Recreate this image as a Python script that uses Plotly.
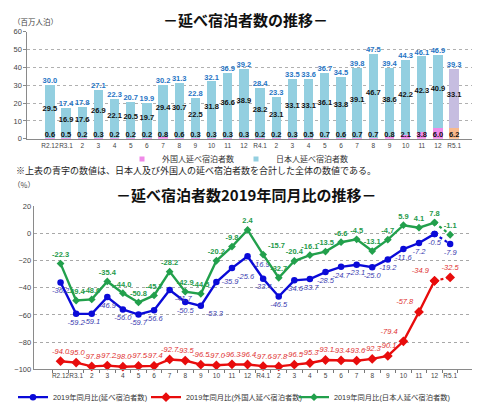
import plotly.graph_objects as go

# ---------------- data ----------------
categories = ["R2.12", "R3.1", "R3.2", "R3.3", "R3.4", "R3.5", "R3.6", "R3.7", "R3.8",
              "R3.9", "R3.10", "R3.11", "R3.12", "R4.1", "R4.2", "R4.3", "R4.4", "R4.5",
              "R4.6", "R4.7", "R4.8", "R4.9", "R4.10", "R4.11", "R4.12", "R5.1"]
tick_labels = ["R2.12", "R3.1", "2", "3", "4", "5", "6", "7", "8", "9", "10", "11", "12",
               "R4.1", "2", "3", "4", "5", "6", "7", "8", "9", "10", "11", "12", "R5.1"]

total_stays = [30.0, 17.4, 17.8, 27.1, 22.3, 20.7, 19.9, 30.2, 31.3, 22.8, 32.1, 36.9, 39.2,
               28.4, 23.3, 33.5, 33.6, 36.7, 34.5, 39.8, 47.5, 39.4, 44.3, 46.1, 46.9, 39.3]
japanese_stays = [29.5, 16.9, 17.6, 26.9, 22.1, 20.5, 19.7, 29.4, 30.7, 22.5, 31.8, 36.6, 38.9,
                  28.2, 23.1, 33.1, 33.1, 36.1, 33.8, 39.1, 46.7, 38.6, 42.2, 42.3, 40.9, 33.1]
foreign_stays = [0.6, 0.5, 0.2, 0.3, 0.2, 0.2, 0.2, 0.8, 0.6, 0.3, 0.3, 0.3, 0.3,
                 0.2, 0.2, 0.3, 0.5, 0.7, 0.6, 0.7, 0.7, 0.8, 2.1, 3.8, 6.0, 6.2]

yoy_total = [-36.2, -59.2, -59.1, -46.9, -56.0, -59.7, -56.6, -41.7, -50.5, -53.3, -35.9, -25.6, -16.9,
             -33.4, -46.5, -34.6, -33.7, -28.5, -24.7, -23.1, -25.0, -19.2, -11.6, -7.2, -0.5, -7.9]
yoy_foreign = [-94.0, -95.0, -97.8, -97.2, -98.0, -97.5, -97.4, -92.7, -93.5, -96.5, -97.0, -96.3, -96.4,
               -97.6, -97.8, -96.5, -95.3, -93.1, -93.4, -93.6, -92.3, -90.1, -79.4, -57.8, -34.9, -32.5]
yoy_japanese = [-22.3, -49.4, -48.6, -35.4, -44.0, -50.8, -45.7, -28.2, -42.9, -44.5, -20.2, -9.8, 2.4,
                -15.7, -32.7, -20.4, -16.1, -13.5, -6.6, -4.5, -13.1, -4.7, 5.9, 4.1, 7.8, -1.1]

# ---------------- styles ----------------
W, H = 480, 404
FONT = "Arial, Liberation Sans, Noto Sans CJK JP, sans-serif"
JP = "Noto Sans CJK JP, sans-serif"
n = len(categories)
C_JP_BAR = "#93cfe0"
C_FR_BAR = "#f08ae8"
jp_colors = [C_JP_BAR] * (n - 1) + ["#c6bde0"]
fr_colors = [C_FR_BAR] * (n - 1) + ["#f8b98c"]
C_BLUE, C_RED, C_GREEN = "#0a0ad8", "#e80c0c", "#22a04c"


def px_y(py):
    return 1 - py / H


def px_x(px):
    return px / W


def fmt(vals):
    return [f"{v:.1f}" for v in vals]


fig = go.Figure()

# ---- top: stacked bars ----
fig.add_trace(go.Bar(x=categories, y=foreign_stays, marker=dict(color=fr_colors, line_width=0),
                     showlegend=False, xaxis="x", yaxis="y", hoverinfo="y"))
fig.add_trace(go.Bar(x=categories, y=japanese_stays, marker=dict(color=jp_colors, line_width=0),
                     showlegend=False, xaxis="x", yaxis="y", hoverinfo="y"))
# value labels
fig.add_trace(go.Scatter(x=categories, y=total_stays, mode="text", text=fmt(total_stays),
                         textposition="top center", showlegend=False, xaxis="x", yaxis="y",
                         textfont=dict(family=FONT, size=7.5, color="#1f74c4", weight="bold")))
jp_mid = [f + j / 2 + 1.5 for f, j in zip(foreign_stays, japanese_stays)]
fig.add_trace(go.Scatter(x=categories, y=jp_mid, mode="text", text=fmt(japanese_stays),
                         textposition="middle center", showlegend=False, xaxis="x", yaxis="y",
                         textfont=dict(family=FONT, size=7.5, color="#111111", weight="bold")))
fig.add_trace(go.Scatter(x=categories, y=[0] * n, mode="text", text=fmt(foreign_stays),
                         textposition="top center", showlegend=False, xaxis="x", yaxis="y",
                         textfont=dict(family=FONT, size=7.5, color="#111111", weight="bold")))
# legend entries for bars (one legend each, to place them like the reference)
fig.add_trace(go.Scatter(x=[None], y=[None], mode="markers", name="外国人延べ宿泊者数",
                         marker=dict(symbol="square", size=5, color=C_FR_BAR), legend="legend",
                         xaxis="x", yaxis="y"))
fig.add_trace(go.Scatter(x=[None], y=[None], mode="markers", name="日本人延べ宿泊者数",
                         marker=dict(symbol="square", size=5, color=C_JP_BAR), legend="legend2",
                         xaxis="x", yaxis="y"))

# ---- bottom: lines ----
pos_total = ["bottom center"] * 7 + ["bottom right", "bottom center", "bottom right", "middle right"] + \
            ["bottom right", "bottom right"] + ["bottom center"] * 13
pos_foreign = ["top center"] * (n - 4) + ["top left", "top left", "top left", "top center"]
pos_japanese = ["top center"] * 13 + ["top right"] + ["top center"] * 12

series = [
    ("2019年同月比(延べ宿泊者数)", yoy_total, C_BLUE, "circle", 6.5,
     dict(family=FONT, size=7.5, color="#3a3ab0", style="italic"), pos_total, "legend3"),
    ("2019年同月比(外国人延べ宿泊者数)", yoy_foreign, C_RED, "diamond", 7.5,
     dict(family=FONT, size=7.5, color="#e03030", style="italic"), pos_foreign, "legend4"),
    ("2019年同月比(日本人延べ宿泊者数)", yoy_japanese, C_GREEN, "diamond", 6,
     dict(family=FONT, size=7.5, color="#259a4a", weight="bold"), pos_japanese, "legend5"),
]
for name, vals, col, sym, msz, tf, pos, lg in series:
    txt = fmt(vals)
    fig.add_trace(go.Scatter(x=categories[:-1], y=vals[:-1], mode="lines+markers+text", name=name,
                             text=txt[:-1], textposition=pos[:-1], textfont=tf,
                             line=dict(color=col, width=2.4), marker=dict(color=col, size=msz, symbol=sym),
                             legend=lg, xaxis="x2", yaxis="y2", cliponaxis=False))
    fig.add_trace(go.Scatter(x=categories[-2:], y=vals[-2:], mode="lines+markers+text", showlegend=False,
                             text=["", txt[-1]], textposition=pos[-2:], textfont=tf,
                             line=dict(color=col, width=2.2, dash="dot"),
                             marker=dict(color=col, size=msz, symbol=sym),
                             xaxis="x2", yaxis="y2", cliponaxis=False))

axis_common = dict(showline=True, linecolor="#8a8a8a", linewidth=1, automargin=False, fixedrange=True)


def one_legend(xpx, ypx, size):
    return dict(orientation="h", x=px_x(xpx), xanchor="left", y=px_y(ypx), yanchor="middle",
                font=dict(family=FONT, size=size, color="#333333"), bgcolor="rgba(0,0,0,0)",
                itemwidth=30, borderwidth=0)


fig.update_layout(
    width=W, height=H, margin=dict(l=0, r=0, t=0, b=0),
    paper_bgcolor="white", plot_bgcolor="white",
    barmode="stack", bargap=0.42,
    font=dict(family=FONT, color="#333333"),
    xaxis=dict(domain=[px_x(19.4), px_x(468.6)], anchor="y", type="category",
               tickmode="array", tickvals=categories, ticktext=tick_labels, tickangle=0,
               tickfont=dict(size=6.5, color="#444444"), ticks="", showgrid=False, **axis_common),
    yaxis=dict(domain=[px_y(133.5), px_y(24)], anchor="x", range=[0, 60], dtick=10,
               tickfont=dict(size=7.5, color="#444444"), ticks="outside", ticklen=3, tickcolor="#8a8a8a",
               showgrid=True, gridcolor="#b0b0b0", griddash="dot", gridwidth=1, zeroline=False,
               **axis_common),
    xaxis2=dict(domain=[px_x(25.7), px_x(469)], anchor="y2", type="category",
                tickmode="array", tickvals=categories, ticktext=tick_labels, tickson="boundaries",
                tickangle=0,
                tickfont=dict(size=6.5, color="#444444"), ticks="outside", ticklen=3, tickcolor="#777777",
                showgrid=False, **axis_common),
    yaxis2=dict(domain=[px_y(368.7), px_y(202)], anchor="x2", range=[-100, 20], dtick=20,
                tickfont=dict(size=7.5, color="#444444"), ticks="", showgrid=True,
                gridcolor="#a8a8a8", griddash="dot", gridwidth=1, zeroline=False, **axis_common),
    legend=one_legend(114, 154, 8),
    legend2=one_legend(228, 154, 8),
    legend3=one_legend(5, 397, 7.3),
    legend4=one_legend(138, 397, 7.3),
    legend5=one_legend(286, 397, 7.3),
    annotations=[
        dict(text="－延べ宿泊者数の推移－", x=0.495, y=px_y(12), xref="paper", yref="paper",
             showarrow=False, font=dict(family=JP, size=15, color="#111111", weight="bold"),
             xanchor="center", yanchor="middle"),
        dict(text="（百万人泊）", x=px_x(3), y=px_y(14), xref="paper", yref="paper",
             showarrow=False, font=dict(family=JP, size=7.5, color="#444444"),
             xanchor="left", yanchor="middle"),
        dict(text="※上表の青字の数値は、日本人及び外国人の延べ宿泊者数を合計した全体の数値である。",
             x=px_x(6), y=px_y(166), xref="paper", yref="paper", showarrow=False,
             font=dict(family=JP, size=9, color="#222222"), xanchor="left", yanchor="middle"),
        dict(text="（%）", x=px_x(3), y=px_y(180), xref="paper", yref="paper",
             showarrow=False, font=dict(family=JP, size=7.5, color="#444444"),
             xanchor="left", yanchor="middle"),
        dict(text="－延べ宿泊者数2019年同月比の推移－", x=0.495, y=px_y(190), xref="paper", yref="paper",
             showarrow=False, font=dict(family=JP, size=15, color="#111111", weight="bold"),
             xanchor="center", yanchor="middle"),
    ],
)

fig.write_html("out.html")
